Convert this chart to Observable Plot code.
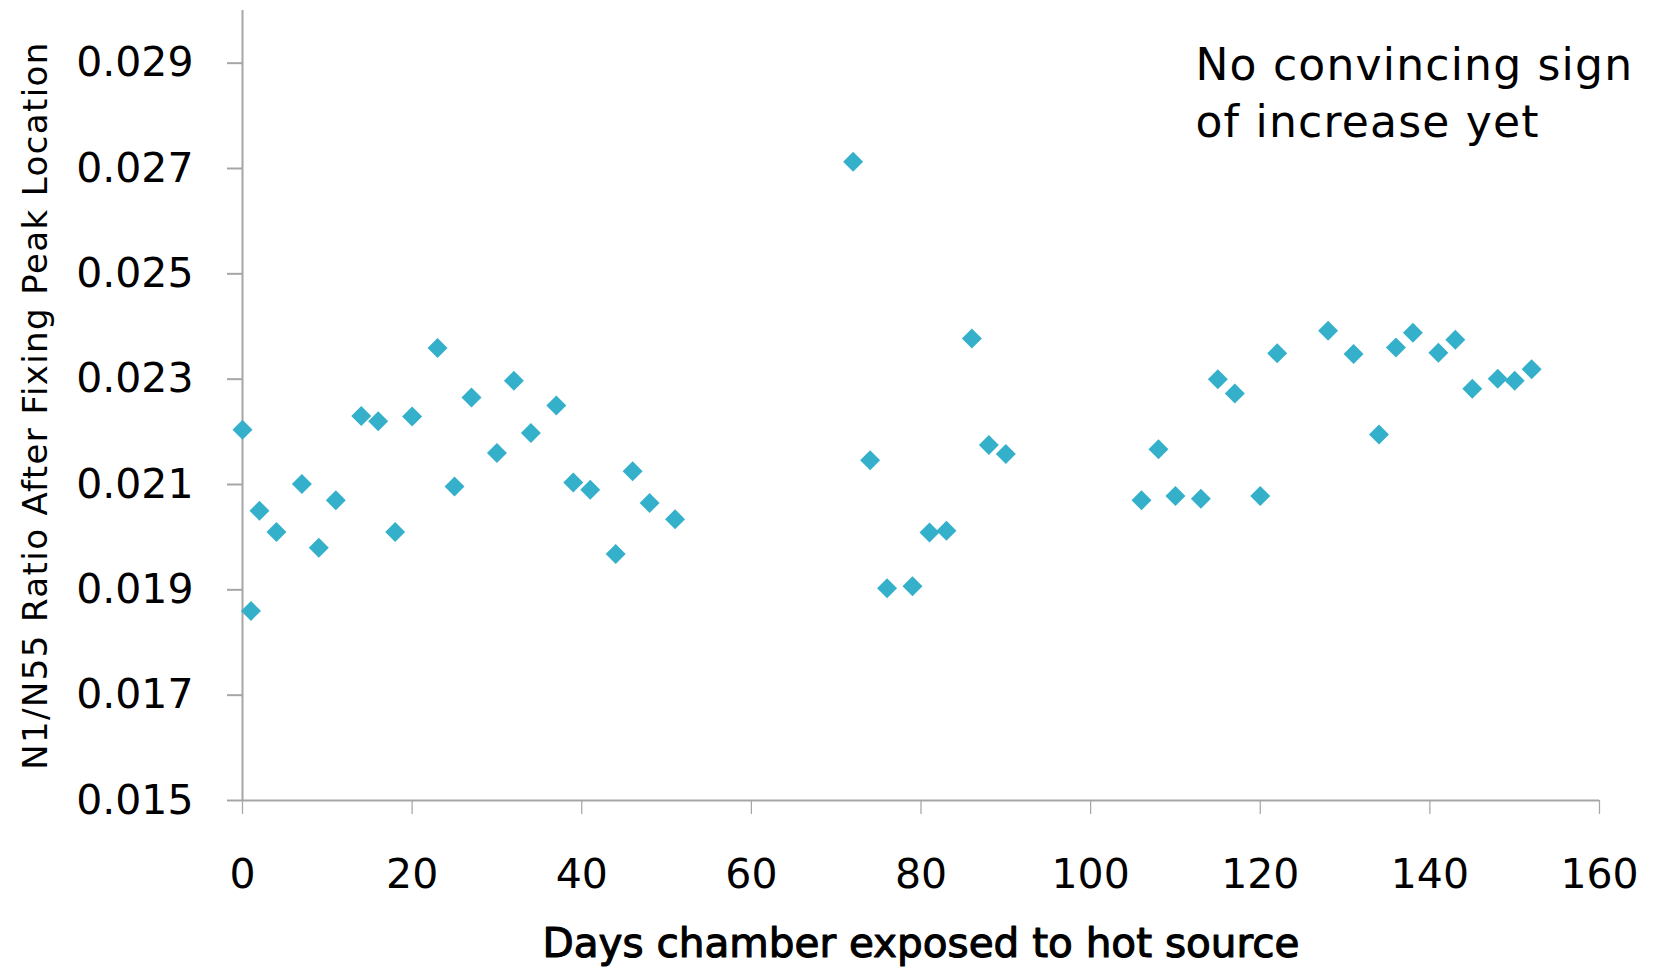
<!DOCTYPE html>
<html>
<head>
<meta charset="utf-8">
<script src="https://cdn.jsdelivr.net/npm/d3@7"></script>
<script src="https://cdn.jsdelivr.net/npm/@observablehq/plot@0.6"></script>
<style>
  html, body { margin: 0; padding: 0; background: #fff; }
  #chart { width: 1655px; height: 971px; }
</style>
</head>
<body>
<div id="chart"></div>
<script>
const days = [0,1,2,4,7,9,11,14,16,18,20,23,25,27,30,32,34,37,39,41,44,46,48,51,
  72,74,76,79,81,83,86,88,90,
  106,108,110,113,115,117,120,122,128,131,134,136,138,141,143,145,148,150,152];
const ratios = [0.02204,0.01860,0.02050,0.02010,0.02101,0.01980,0.02070,0.02230,0.02220,0.02010,0.02229,0.02359,0.02096,0.02265,0.02160,0.02297,0.02198,0.02250,0.02104,0.02090,0.01968,0.02125,0.02065,0.02034,
  0.02713,0.02146,0.01903,0.01907,0.02009,0.02012,0.02377,0.02175,0.02158,
  0.02070,0.02167,0.02078,0.02073,0.02300,0.02273,0.02078,0.02349,0.02392,0.02348,0.02195,0.02360,0.02388,0.02350,0.02375,0.02282,0.02301,0.02297,0.02319];
const xTicks = [0,20,40,60,80,100,120,140,160];
const yTicks = [0.015,0.017,0.019,0.021,0.023,0.025,0.027,0.029];
const xTitle = "Days chamber exposed to hot source";
const yTitle = "N1/N55 Ratio After Fixing Peak Location";
const note = "No convincing sign\nof increase yet";

const data = days.map((d, i) => ({day: d, ratio: ratios[i]}));
const axisGray = "#a6a6a6";
const pointColor = "#35b0cb";

const chart = Plot.plot({
  width: 1655,
  height: 971,
  marginLeft: 242,
  marginRight: 56,
  marginTop: 10,
  marginBottom: 171,
  style: {fontFamily: "'DejaVu Sans', Verdana, sans-serif", background: "#fff", color: "#000"},
  x: {domain: [0, 160]},
  y: {domain: [0.015, 0.030]},
  marks: [
    Plot.ruleX([0], {stroke: axisGray, strokeWidth: 2}),
    Plot.ruleY([0.015], {stroke: axisGray, strokeWidth: 2}),
    Plot.axisY({ticks: yTicks, tickSize: 15, tickPadding: 34, tickFormat: d3.format(".3f"),
      fontSize: 41, stroke: axisGray, strokeWidth: 2, fill: "#000", label: null}),
    Plot.axisX({ticks: xTicks, tickSize: 14, tickPadding: 44, tickFormat: d3.format("d"),
      fontSize: 41, stroke: axisGray, strokeWidth: 1.25, fill: "#000", label: null}),
    Plot.text([xTitle], {frameAnchor: "bottom", dy: 143.5, lineAnchor: "middle", fontSize: 40.5,
      fill: "#000", stroke: "#000", strokeWidth: 1.1}),
    Plot.text([yTitle], {frameAnchor: "left", dx: -206, rotate: -90, lineAnchor: "middle", textAnchor: "middle", fontSize: 34, fill: "#000"}),
    Plot.text([note], {frameAnchor: "top-left", dx: 953, dy: 28.8, lineAnchor: "top", textAnchor: "start", lineHeight: 1.3, fontSize: 44, fill: "#000"}),
    Plot.dot(data, {x: "day", y: "ratio", symbol: "diamond2", r: 9, fill: pointColor, stroke: "none"})
  ]
});

document.getElementById("chart").appendChild(chart);

d3.select(chart).selectAll("text").each(function() {
  const t = this.textContent;
  if (t.startsWith("No convincing")) this.style.letterSpacing = "1.2px";
  if (t.startsWith("N1/N55")) this.style.letterSpacing = "1.4px";
});
</script>
</body>
</html>
